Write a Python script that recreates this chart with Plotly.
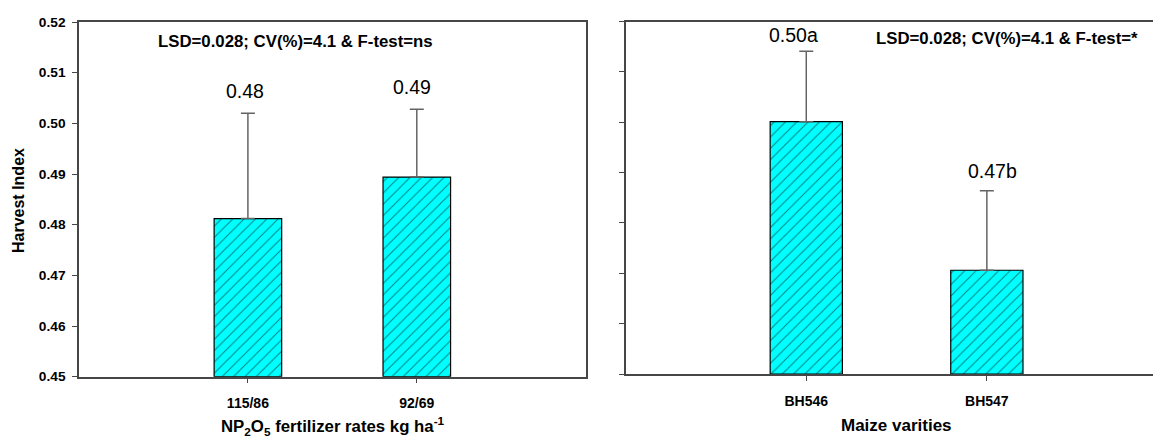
import plotly.graph_objects as go

# Left panel: fertilizer rates
fert_cats = ["115/86", "92/69"]
fert_hi = [0.4812, 0.4894]
fert_err = [0.0208, 0.0134]
fert_labels = ["0.48", "0.49"]

# Right panel: maize varieties
var_cats = ["BH546", "BH547"]
var_hi = [0.5001, 0.4706]
var_err = [0.0140, 0.0158]
var_labels = ["0.50a", "0.47b"]

y_ticks = [0.45, 0.46, 0.47, 0.48, 0.49, 0.50, 0.51, 0.52]
note_left = "LSD=0.028; CV(%)=4.1 & F-test=ns"
note_right = "LSD=0.028; CV(%)=4.1 & F-test=*"

FONT = "Liberation Sans, Arial, sans-serif"
LINE = "rgb(70,70,70)"
W, H = 1153, 439

fig = go.Figure()

def add_bars(cats, vals, errs, xa, ya):
    fig.add_trace(go.Bar(
        x=list(range(len(cats))), y=[v - 0.45 for v in vals], base=0.45,
        width=0.4, xaxis=xa, yaxis=ya,
        marker=dict(color="#00FFFF", line=dict(color="black", width=1.2),
                    pattern=dict(shape="/", fgcolor="black", bgcolor="#00FFFF",
                                 size=8, solidity=0.12)),
        error_y=dict(type="data", array=errs, arrayminus=[0] * len(errs),
                     symmetric=False, color="rgb(100,100,100)", thickness=1.5, width=7),
        showlegend=False, hoverinfo="skip"))

add_bars(fert_cats, fert_hi, fert_err, "x", "y")
add_bars(var_cats, var_hi, var_err, "x2", "y2")

def px_x(p):
    return p / W

def px_y(p):
    return 1 - p / H

axis_common = dict(showline=True, linecolor=LINE, linewidth=1.5, ticks="outside",
                   ticklen=5, tickcolor=LINE, showgrid=False, zeroline=False,
                   automargin=False)

fig.update_layout(
    width=W, height=H, margin=dict(l=0, r=0, t=0, b=0, pad=0, autoexpand=False),
    paper_bgcolor="white", plot_bgcolor="white",
    font=dict(family=FONT, color="black"),
    xaxis=dict(domain=[px_x(79), px_x(585.7)], range=[-1, 2], anchor="y",
               tickvals=[0, 1], ticktext=["<b>%s</b>" % c for c in fert_cats],
               mirror=True, ticklabelstandoff=8,
               tickfont=dict(family=FONT, size=14, color="black"), **axis_common),
    yaxis=dict(domain=[px_y(376.7), px_y(22)], range=[0.45, 0.52], anchor="x",
               tickvals=y_ticks, ticktext=["<b>%.2f</b>" % t for t in y_ticks],
               mirror=True, ticklabelstandoff=4,
               tickfont=dict(family=FONT, size=13.7, color="black"), **axis_common),
    xaxis2=dict(domain=[px_x(625.7), 1.0], range=[-1, 1.92], anchor="y2",
                tickvals=[0, 1], ticktext=["<b>%s</b>" % c for c in var_cats],
                mirror=True, ticklabelstandoff=8,
                tickfont=dict(family=FONT, size=14, color="black"), **axis_common),
    yaxis2=dict(domain=[px_y(374), px_y(21.5)], range=[0.45, 0.52], anchor="x2",
                tickvals=y_ticks, showticklabels=False, mirror=False, **axis_common),
)

annos = []
shifts_left = [(-3, 9), (-5, 9)]
shifts_right = [(-13, 3), (6, 7)]
for i, (v, e, t) in enumerate(zip(fert_hi, fert_err, fert_labels)):
    annos.append(dict(x=i, y=v + e, xref="x", yref="y", text=t, showarrow=False,
                      yanchor="bottom", xshift=shifts_left[i][0], yshift=shifts_left[i][1],
                      font=dict(family=FONT, size=19.5, color="black")))
for i, (v, e, t) in enumerate(zip(var_hi, var_err, var_labels)):
    annos.append(dict(x=i, y=v + e, xref="x2", yref="y2", text=t, showarrow=False,
                      yanchor="bottom", xshift=shifts_right[i][0], yshift=shifts_right[i][1],
                      font=dict(family=FONT, size=19.5, color="black")))

annos.append(dict(x=px_x(155.7), y=px_y(41.7), xref="paper", yref="paper",
                  text="<b>%s</b>" % note_left, showarrow=False, xanchor="left",
                  yanchor="middle", font=dict(family=FONT, size=16.8, color="black")))
annos.append(dict(x=px_x(873.5), y=px_y(38), xref="paper", yref="paper",
                  text="<b>%s</b>" % note_right, showarrow=False, xanchor="left",
                  yanchor="middle", font=dict(family=FONT, size=16.8, color="black")))

annos.append(dict(x=px_x(332.5), y=px_y(426), xref="paper", yref="paper",
                  text="<b>NP<sub>2</sub>O<sub>5</sub> fertilizer rates kg ha<sup>-1</sup></b>",
                  showarrow=False, xanchor="center", yanchor="middle",
                  font=dict(family=FONT, size=16.8, color="black")))
annos.append(dict(x=px_x(896), y=px_y(425), xref="paper", yref="paper",
                  text="<b>Maize varities</b>", showarrow=False, xanchor="center",
                  yanchor="middle", font=dict(family=FONT, size=17, color="black")))
annos.append(dict(x=px_x(18), y=px_y(201), xref="paper", yref="paper",
                  text="<b>Harvest Index</b>", showarrow=False, textangle=-90,
                  xanchor="center", yanchor="middle",
                  font=dict(family=FONT, size=16, color="black")))

fig.update_layout(annotations=annos)

post = """
document.documentElement.style.margin='0';
document.body.style.margin='0';
document.body.style.overflow='hidden';
"""
fig.write_html("out.html", config={"displayModeBar": False}, post_script=post)
